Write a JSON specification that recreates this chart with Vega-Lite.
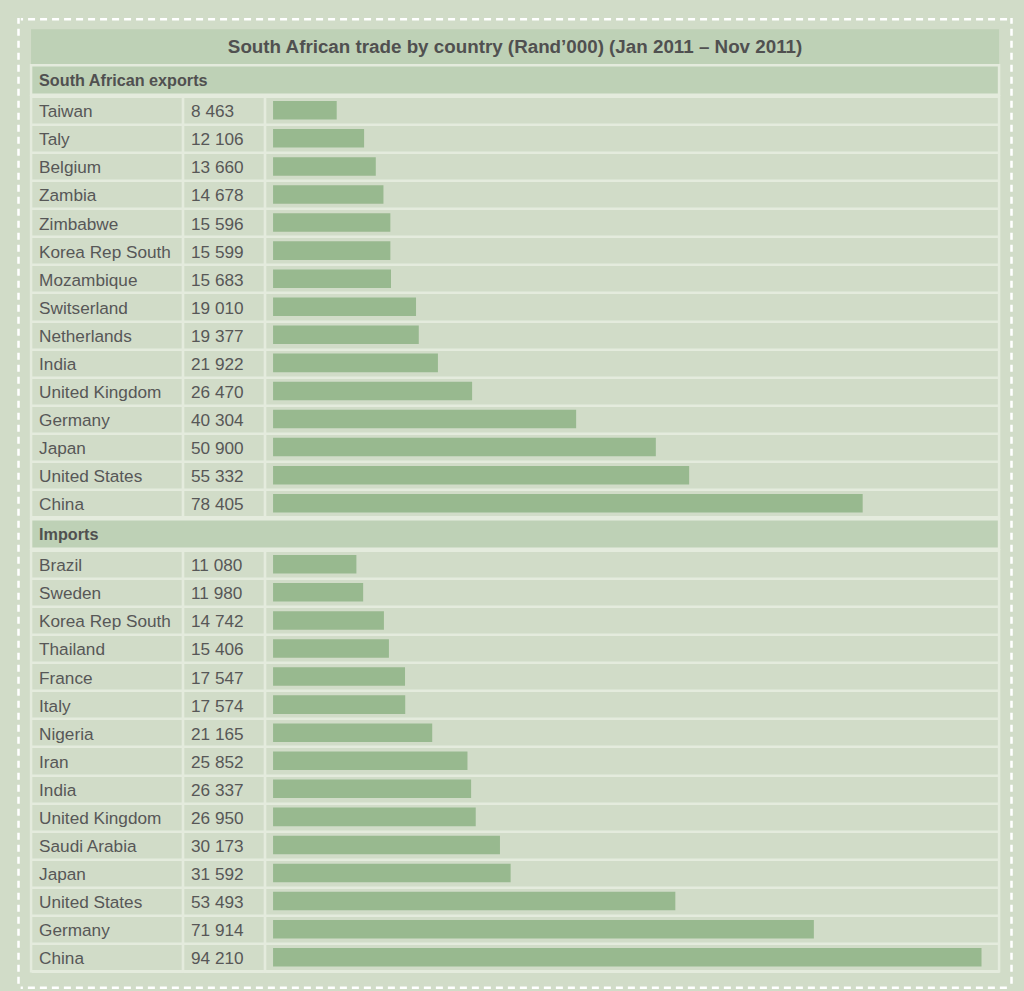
{
  "$schema": "https://vega.github.io/schema/vega-lite/v6.json",
  "background": "#d1dcc8",
  "padding": {"left": 17, "top": 17.75, "right": 13, "bottom": 4.75},
  "datasets": {
    "exports": [
      {"country": "Taiwan", "value": 8463},
      {"country": "Taly", "value": 12106},
      {"country": "Belgium", "value": 13660},
      {"country": "Zambia", "value": 14678},
      {"country": "Zimbabwe", "value": 15596},
      {"country": "Korea Rep South", "value": 15599},
      {"country": "Mozambique", "value": 15683},
      {"country": "Switserland", "value": 19010},
      {"country": "Netherlands", "value": 19377},
      {"country": "India", "value": 21922},
      {"country": "United Kingdom", "value": 26470},
      {"country": "Germany", "value": 40304},
      {"country": "Japan", "value": 50900},
      {"country": "United States", "value": 55332},
      {"country": "China", "value": 78405}
    ],
    "imports": [
      {"country": "Brazil", "value": 11080},
      {"country": "Sweden", "value": 11980},
      {"country": "Korea Rep South", "value": 14742},
      {"country": "Thailand", "value": 15406},
      {"country": "France", "value": 17547},
      {"country": "Italy", "value": 17574},
      {"country": "Nigeria", "value": 21165},
      {"country": "Iran", "value": 25852},
      {"country": "India", "value": 26337},
      {"country": "United Kingdom", "value": 26950},
      {"country": "Saudi Arabia", "value": 30173},
      {"country": "Japan", "value": 31592},
      {"country": "United States", "value": 53493},
      {"country": "Germany", "value": 71914},
      {"country": "China", "value": 94210}
    ]
  },
  "config": {
    "locale": {"number": {"decimal": ".", "thousands": " ", "grouping": [3], "currency": ["", ""]}},
    "view": {"fill": "#d1dcc8", "stroke": "#e4ebdd", "strokeWidth": 2.5},
    "font": "Liberation Sans",
    "text": {"font": "Liberation Sans", "fontSize": 17.2, "fill": "#575757", "baseline": "middle"}
  },
  "spacing": 0,
  "hconcat": [
    {
      "width": 1, "height": 967,
      "data": {"values": [{}]},
      "mark": {"type": "point", "size": 0, "opacity": 0},
      "encoding": {},
      "view": {"fill": null, "stroke": "#ffffff", "strokeDash": [7, 5], "strokeDashOffset": 1, "strokeWidth": 1.5}
    },
    {
      "vconcat": [
        {
          "vconcat": [
            {
              "width": 987.5, "height": 1,
              "data": {"values": [{}]},
              "mark": {"type": "point", "size": 0, "opacity": 0},
              "encoding": {},
              "view": {"fill": null, "stroke": "#ffffff", "strokeDash": [7, 5], "strokeDashOffset": 5.5, "strokeWidth": 1.5}
            },
            {
              "vconcat": [
                {
                  "width": 968, "height": 36,
                  "data": {"values": [{}]},
                  "mark": {"type": "text", "fontWeight": "bold", "fontSize": 18.8, "fill": "#505050"},
                  "encoding": {"text": {"value": "South African trade by country (Rand’000)  (Jan 2011 – Nov 2011)"}},
                  "view": {"fill": "#bed1b6"}
                },
                {
                  "width": 968, "height": 29.5,
                  "data": {"values": [{}]},
                  "mark": {"type": "text", "fontWeight": "bold", "fontSize": 16.2, "align": "left", "dx": 8, "dy": 1, "fill": "#505050"},
                  "encoding": {"text": {"value": "South African exports"}, "x": {"value": 0}},
                  "view": {"fill": "#bed1b6"}
                },
                {
                  "hconcat": [
                    {
                      "width": 152, "height": 421,
                      "data": {"name": "exports"},
                      "mark": {"type": "text", "align": "left", "dx": 8, "dy": 2},
                      "encoding": {
                        "y": {"field": "country", "type": "nominal", "sort": null,
                              "scale": {"paddingInner": 0, "paddingOuter": 0},
                              "axis": {"grid": true, "tickBand": "extent", "gridColor": "#e4ebdd", "gridWidth": 2.5, "labels": false, "ticks": false, "domain": false, "title": null}},
                        "x": {"value": 0},
                        "text": {"field": "country"}
                      }
                    },
                    {
                      "width": 82, "height": 421,
                      "data": {"name": "exports"},
                      "mark": {"type": "text", "align": "left", "dx": 8, "dy": 2},
                      "encoding": {
                        "y": {"field": "country", "type": "nominal", "sort": null,
                              "scale": {"paddingInner": 0, "paddingOuter": 0},
                              "axis": {"grid": true, "tickBand": "extent", "gridColor": "#e4ebdd", "gridWidth": 2.5, "labels": false, "ticks": false, "domain": false, "title": null}},
                        "x": {"value": 0},
                        "text": {"field": "value", "type": "quantitative", "format": ",d"}
                      }
                    },
                    {
                      "width": 734, "height": 421,
                      "data": {"name": "exports"},
                      "mark": {"type": "bar", "color": "#98b98f", "height": {"band": 0.66}},
                      "encoding": {
                        "y": {"field": "country", "type": "nominal", "sort": null,
                              "scale": {"paddingInner": 0, "paddingOuter": 0},
                              "axis": {"grid": true, "tickBand": "extent", "gridColor": "#e4ebdd", "gridWidth": 2.5, "labels": false, "ticks": false, "domain": false, "title": null}},
                        "x": {"field": "value", "type": "quantitative", "axis": null,
                              "scale": {"domain": [-1064, 96543], "nice": false}}
                      }
                    }
                  ],
                  "spacing": 0,
                  "bounds": "flush"
                },
                {
                  "width": 968, "height": 29.5,
                  "data": {"values": [{}]},
                  "mark": {"type": "text", "fontWeight": "bold", "fontSize": 16.2, "align": "left", "dx": 8, "dy": 1, "fill": "#505050"},
                  "encoding": {"text": {"value": "Imports"}, "x": {"value": 0}},
                  "view": {"fill": "#bed1b6"}
                },
                {
                  "hconcat": [
                    {
                      "width": 152, "height": 421,
                      "data": {"name": "imports"},
                      "mark": {"type": "text", "align": "left", "dx": 8, "dy": 2},
                      "encoding": {
                        "y": {"field": "country", "type": "nominal", "sort": null,
                              "scale": {"paddingInner": 0, "paddingOuter": 0},
                              "axis": {"grid": true, "tickBand": "extent", "gridColor": "#e4ebdd", "gridWidth": 2.5, "labels": false, "ticks": false, "domain": false, "title": null}},
                        "x": {"value": 0},
                        "text": {"field": "country"}
                      }
                    },
                    {
                      "width": 82, "height": 421,
                      "data": {"name": "imports"},
                      "mark": {"type": "text", "align": "left", "dx": 8, "dy": 2},
                      "encoding": {
                        "y": {"field": "country", "type": "nominal", "sort": null,
                              "scale": {"paddingInner": 0, "paddingOuter": 0},
                              "axis": {"grid": true, "tickBand": "extent", "gridColor": "#e4ebdd", "gridWidth": 2.5, "labels": false, "ticks": false, "domain": false, "title": null}},
                        "x": {"value": 0},
                        "text": {"field": "value", "type": "quantitative", "format": ",d"}
                      }
                    },
                    {
                      "width": 734, "height": 421,
                      "data": {"name": "imports"},
                      "mark": {"type": "bar", "color": "#98b98f", "height": {"band": 0.66}},
                      "encoding": {
                        "y": {"field": "country", "type": "nominal", "sort": null,
                              "scale": {"paddingInner": 0, "paddingOuter": 0},
                              "axis": {"grid": true, "tickBand": "extent", "gridColor": "#e4ebdd", "gridWidth": 2.5, "labels": false, "ticks": false, "domain": false, "title": null}},
                        "x": {"field": "value", "type": "quantitative", "axis": null,
                              "scale": {"domain": [-1064, 96543], "nice": false}}
                      }
                    }
                  ],
                  "spacing": 0,
                  "bounds": "flush"
                }
              ],
              "spacing": -3.25
            }
          ],
          "spacing": 8.5,
          "center": true
        },
        {
          "width": 987.5, "height": 1,
          "data": {"values": [{}]},
          "mark": {"type": "point", "size": 0, "opacity": 0},
          "encoding": {},
          "view": {"fill": null, "stroke": "#ffffff", "strokeDash": [7, 5], "strokeDashOffset": 5.5, "strokeWidth": 1.5}
        }
      ],
      "spacing": 13.5,
      "center": true
    },
    {
      "width": 1, "height": 967,
      "data": {"values": [{}]},
      "mark": {"type": "point", "size": 0, "opacity": 0},
      "encoding": {},
      "view": {"fill": null, "stroke": "#ffffff", "strokeDash": [7, 5], "strokeDashOffset": 1, "strokeWidth": 1.5}
    }
  ]
}
